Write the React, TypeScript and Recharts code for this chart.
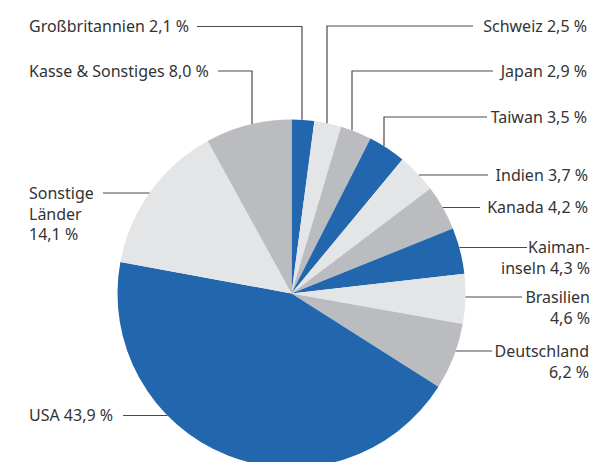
import React from "react";
import { PieChart, Pie, Cell } from "recharts";

// Anteile in Prozent, im Uhrzeigersinn ab 12 Uhr
const names = [
  "Großbritannien",
  "Schweiz",
  "Japan",
  "Taiwan",
  "Indien",
  "Kanada",
  "Kaiman-\ninseln",
  "Brasilien\n",
  "Deutschland\n",
  "USA",
  "Sonstige\nLänder\n",
  "Kasse & Sonstiges",
];
const values = [2.1, 2.5, 2.9, 3.5, 3.7, 4.2, 4.3, 4.6, 6.2, 43.9, 14.1, 8.0];

const palette = ["#2267ae", "#e4e5e7", "#bbbcbf"];

const data = names.map((name, i) => ({ name, value: values[i] }));

const CX = 291.5;
const CY = 293.5;
const R = 174;

// label placement: text anchor point, leader line
type Layout = {
  tx: number;
  ty: number;
  anchor: "start" | "end";
  ly: number;
  lx: number;
  elbow?: number;
};
const layout: Layout[] = [
  { tx: 29, ty: 32, anchor: "start", ly: 26.5, lx: 197, elbow: 302 },
  { tx: 587, ty: 32, anchor: "end", ly: 26, lx: 473, elbow: 327 },
  { tx: 587, ty: 77, anchor: "end", ly: 71, lx: 493, elbow: 352 },
  { tx: 587, ty: 123, anchor: "end", ly: 117, lx: 487, elbow: 384 },
  { tx: 588, ty: 181, anchor: "end", ly: 175, lx: 488 },
  { tx: 588, ty: 213, anchor: "end", ly: 207.5, lx: 480 },
  { tx: 590, ty: 253, anchor: "end", ly: 247.5, lx: 527 },
  { tx: 590, ty: 303, anchor: "end", ly: 297, lx: 522 },
  { tx: 589, ty: 357, anchor: "end", ly: 351, lx: 492 },
  { tx: 29, ty: 421, anchor: "start", ly: 415.5, lx: 123 },
  { tx: 29, ty: 199, anchor: "start", ly: 193, lx: 103 },
  { tx: 29, ty: 77, anchor: "start", ly: 71, lx: 218, elbow: 252 },
];

const fmt = (v: number) => v.toFixed(1).replace(".", ",") + " %";

const renderLabel = (props: any) => {
  const { cx, cy, outerRadius, index } = props;
  const l = layout[index];
  const lines = (names[index] + " " + fmt(values[index])).split("\n").map((s) => s.trim());
  let pts: number[][];
  if (l.elbow !== undefined) {
    const ey = cy - Math.sqrt(outerRadius * outerRadius - (l.elbow - cx) * (l.elbow - cx));
    pts = [[l.lx, l.ly], [l.elbow, l.ly], [l.elbow, ey]];
  } else {
    const dx = Math.sqrt(outerRadius * outerRadius - (l.ly - cy) * (l.ly - cy));
    const ex = l.anchor === "end" ? cx + dx : cx - dx;
    pts = [[l.lx, l.ly], [ex, l.ly]];
  }
  return (
    <g key={"lbl" + index}>
      <polyline
        points={pts.map((p) => p.join(",")).join(" ")}
        fill="none"
        stroke="#4a4a4a"
        strokeWidth={1.2}
      />
      <text
        x={l.tx}
        y={l.ty}
        textAnchor={l.anchor}
        fill="#333333"
        fontSize={16}
        fontFamily="'Noto Sans', sans-serif"
      >
        {lines.map((s, k) => (
          <tspan key={k} x={l.tx} dy={k === 0 ? 0 : 20.5}>
            {s}
          </tspan>
        ))}
      </text>
    </g>
  );
};

export default function App() {
  return (
    <div style={{ position: "absolute", left: 0, top: 0, background: "#fff" }}>
      <PieChart width={598} height={462} margin={{ top: 0, right: 0, bottom: 0, left: 0 }}>
        <Pie
          data={data}
          dataKey="value"
          nameKey="name"
          cx={CX}
          cy={CY}
          outerRadius={R}
          startAngle={90}
          endAngle={-270}
          stroke="none"
          label={renderLabel}
          labelLine={false}
          isAnimationActive={false}
        >
          {data.map((d, i) => (
            <Cell key={d.name} fill={palette[i % 3]} />
          ))}
        </Pie>
      </PieChart>
    </div>
  );
}
